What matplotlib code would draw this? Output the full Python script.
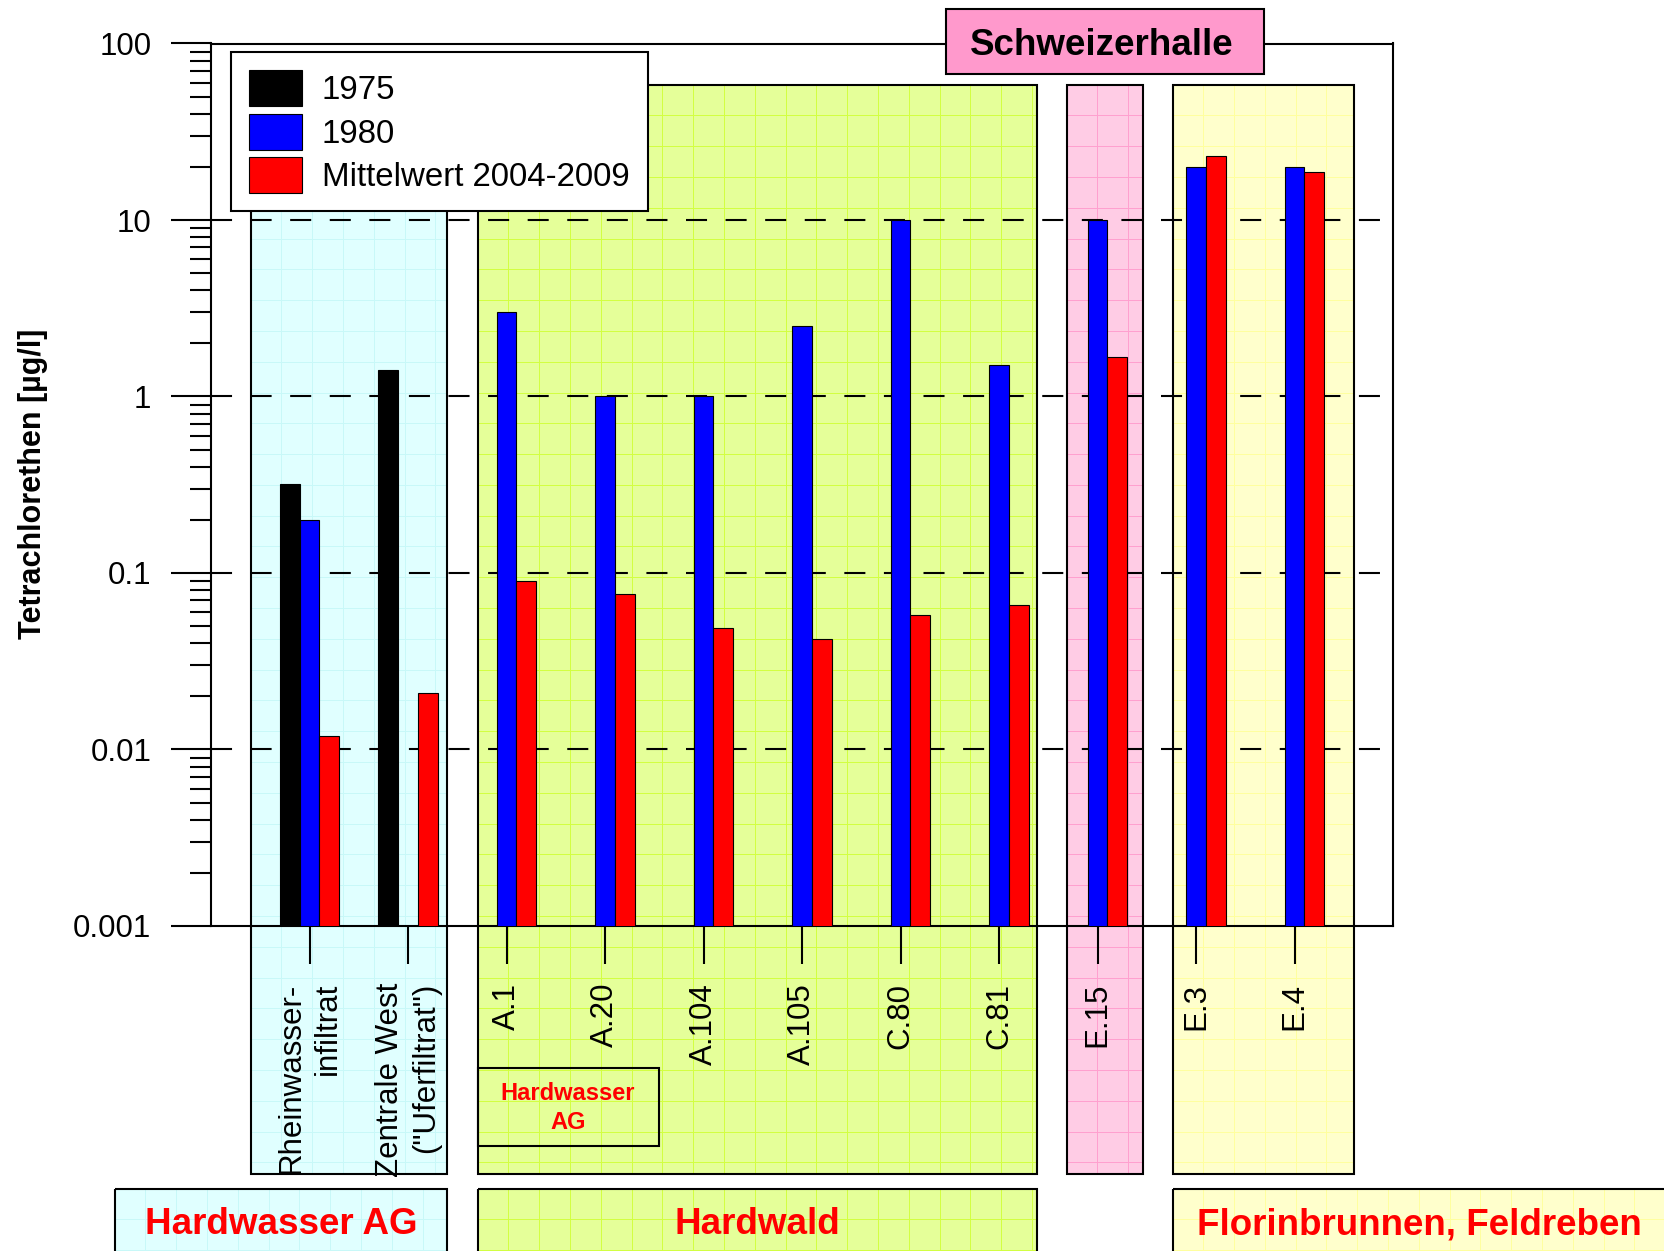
import numpy as np
import matplotlib
matplotlib.use("Agg")
import matplotlib.pyplot as plt
from matplotlib.patches import Rectangle, Patch
from matplotlib.ticker import FixedLocator, FixedFormatter, LogLocator, NullFormatter

plt.rcParams['font.family'] = ['Liberation Sans', 'DejaVu Sans']

W, H, DPI = 1664, 1251, 100
nan = np.nan

# ---- data -------------------------------------------------------------
categories = ['Rheinwasser-\ninfiltrat', 'Zentrale West\n("Uferfiltrat")',
              'A.1', 'A.20', 'A.104', 'A.105', 'C.80', 'C.81',
              'E.15', 'E.3', 'E.4']
v1975 = [0.32, 1.42, nan, nan, nan, nan, nan, nan, nan, nan, nan]
v1980 = [0.20, nan, 3.0, 1.0, 1.0, 2.5, 10.0, 1.5, 10.0, 20.0, 20.0]
vmean = [0.012, 0.021, 0.09, 0.076, 0.049, 0.042, 0.058, 0.066, 1.68, 23.0, 18.8]
series_names = ['1975', '1980', 'Mittelwert 2004-2009']
series_colors = ['#000000', '#0000FF', '#FF0000']
y_ticks = [0.001, 0.01, 0.1, 1, 10, 100]
y_ticklabels = ['0.001', '0.01', '0.1', '1', '10', '100']
group_titles = ['Hardwasser AG', 'Hardwald', 'Florinbrunnen, Feldreben']

fig = plt.figure(figsize=(W / DPI, H / DPI), dpi=DPI)
fig.patch.set_facecolor('white')


def pixel_axes(z):
    a = fig.add_axes([0, 0, 1, 1], zorder=z)
    a.set_xlim(0, W)
    a.set_ylim(H, 0)
    a.axis('off')
    a.patch.set_alpha(0)
    return a


def panel(a, x0, y0, x1, y1, face, grid, step=30.8, lw=1.5):
    a.add_patch(Rectangle((x0, y0), x1 - x0, y1 - y0, facecolor=face,
                          edgecolor='none', zorder=1))
    xs = np.arange(x0 + step, x1 - 2, step)
    ys = np.arange(y0 + step, y1 - 2, step)
    a.vlines(xs, y0, y1, colors=grid, linewidth=0.7, zorder=2)
    a.hlines(ys, x0, x1, colors=grid, linewidth=0.7, zorder=2)
    a.add_patch(Rectangle((x0, y0), x1 - x0, y1 - y0, facecolor='none',
                          edgecolor='black', linewidth=lw, zorder=3))


# ---- coloured background panels ------------------------------------------
bg = pixel_axes(0)
cyan, cyan_g = '#E0FFFF', '#C8F8F8'
green, green_g = '#E5FF99', '#D2FF40'
pink, pink_g = '#FFCCE5', '#FF9FCF'
yellow, yellow_g = '#FFFFCC', '#FFFF9E'

panel(bg, 250.5, 84.5, 447, 1173.5, cyan, cyan_g)
panel(bg, 477.5, 84.5, 1037, 1173.5, green, green_g)
panel(bg, 1066.5, 84.5, 1143, 1173.5, pink, pink_g)
panel(bg, 1172.5, 84.5, 1354, 1173.5, yellow, yellow_g)

panel(bg, 114.5, 1188.5, 447, 1262, cyan, cyan_g)
panel(bg, 477.5, 1188.5, 1037, 1262, green, green_g)
panel(bg, 1172.5, 1188.5, 1680, 1262, yellow, yellow_g)

bg.add_patch(Rectangle((477.5, 1068), 181, 78, facecolor='none',
                       edgecolor='black', linewidth=1.5, zorder=4))
bg.text(568, 1108, 'Hardwasser\nAG', color='#FF0000', fontsize=17,
        fontweight='bold', ha='center', va='center', linespacing=1.3,
        multialignment='center', zorder=5)

for title, xc in zip(group_titles, [281, 757, 1419]):
    bg.text(xc, 1234, title, color='#FF0000', fontsize=26.5,
            fontweight='bold', ha='center', va='baseline', zorder=5)

# ---- main log-scale bar chart --------------------------------------------
ax = fig.add_axes([211 / W, 1 - 926 / H, (1393 - 211) / W, (926 - 43.5) / H],
                  zorder=1)
ax.patch.set_visible(False)
ax.set_yscale('log')
ax.set_ylim(1e-3, 100)
ax.set_xlim(-1, 11)

bar_w = 0.2
offsets = [-bar_w, 0.0, bar_w]
for vals, name, col, off in zip([v1975, v1980, vmean], series_names,
                                series_colors, offsets):
    xs = [i + off for i, v in enumerate(vals) if not np.isnan(v)]
    vs = [v for v in vals if not np.isnan(v)]
    ax.bar(xs, vs, width=bar_w, color=col, edgecolor='black',
           linewidth=0.8, zorder=3)

for yv in y_ticks[1:-1]:
    ax.axhline(yv, color='black', linewidth=1.5,
               linestyle=(0, (10.1, 8.9)), zorder=2)

ax.yaxis.set_major_locator(FixedLocator(y_ticks))
ax.yaxis.set_major_formatter(FixedFormatter(y_ticklabels))
ax.yaxis.set_minor_locator(LogLocator(base=10, subs=np.arange(2, 10)))
ax.yaxis.set_minor_formatter(NullFormatter())
ax.tick_params(axis='y', which='major', direction='out', length=29,
               width=1.5, labelsize=22.5, pad=14)
ax.tick_params(axis='y', which='minor', direction='out', length=15, width=1.5)

ax.set_xticks(range(len(categories)))
ax.set_xticklabels(categories, rotation=90, fontsize=22.5, va='top',
                   ha='center')
ax.tick_params(axis='x', direction='out', length=27, width=1.5, pad=14)
for lbl in ax.get_xticklabels():
    lbl.set_multialignment('right')
    lbl.set_linespacing(1.25)

for sp in ax.spines.values():
    sp.set_linewidth(1.5)

handles = [Patch(facecolor=c, edgecolor='black', linewidth=0.8, label=n)
           for n, c in zip(series_names, series_colors)]
leg = ax.legend(handles=handles, loc='upper left',
                bbox_to_anchor=(231 / W, 1 - 52 / H),
                bbox_transform=fig.transFigure, fontsize=23.8, frameon=True,
                fancybox=False, edgecolor='black', framealpha=1,
                borderpad=0.55, labelspacing=0.22, handlelength=1.6,
                handleheight=1.3, handletextpad=0.6, borderaxespad=0)
leg.get_frame().set_linewidth(1.5)
leg.set_zorder(10)

fig.text(33 / W, 1 - 484 / H, 'Tetrachlorethen [µg/l]', rotation=90,
         ha='center', va='center', fontsize=22, fontweight='bold')

# ---- label box above the frame -----------------------------------------
top = pixel_axes(5)
top.add_patch(Rectangle((945.5, 8.5), 318, 65.5, facecolor='#FF99CC',
                        edgecolor='black', linewidth=1.5, zorder=1))
top.text(1102, 55, 'Schweizerhalle', fontsize=26.5, fontweight='bold',
         ha='center', va='baseline', zorder=2)

fig.savefig('out.png', dpi=DPI)
